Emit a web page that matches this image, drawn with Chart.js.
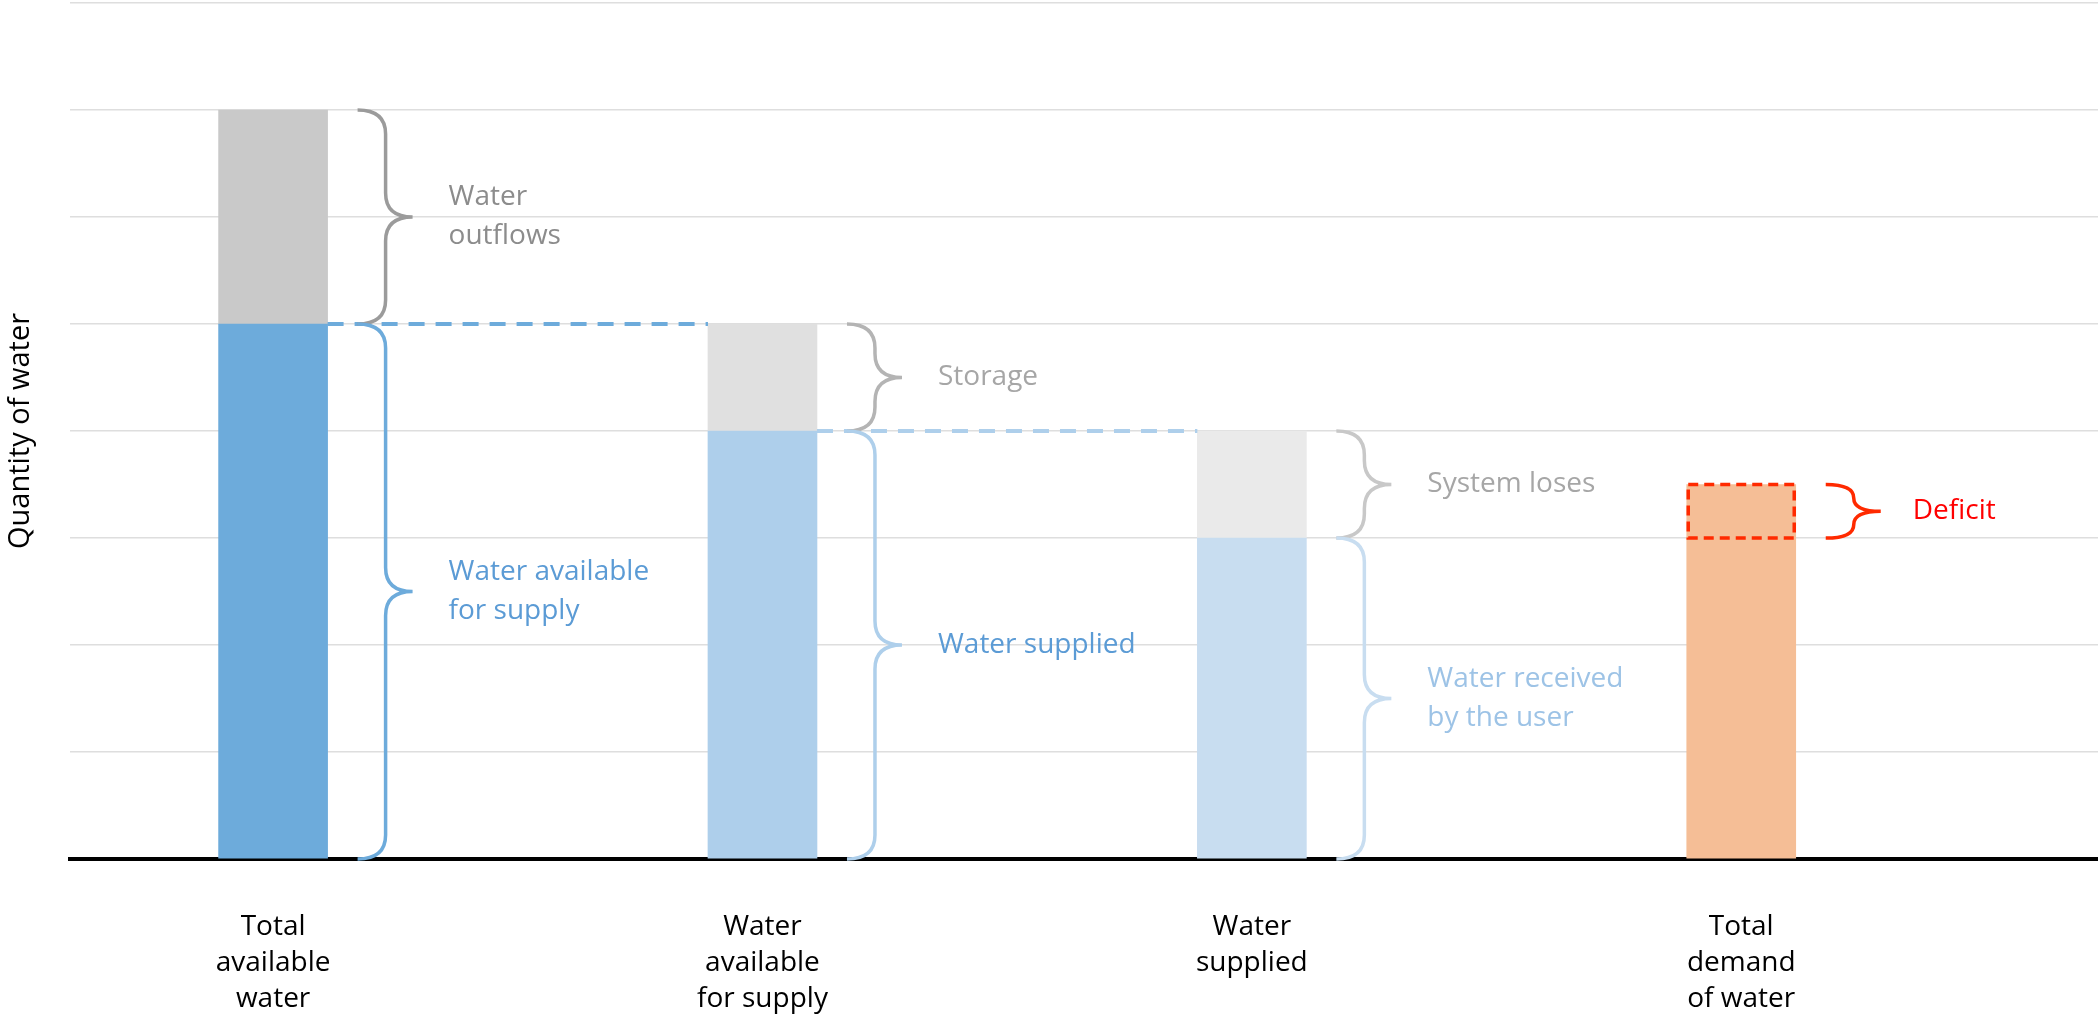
<!DOCTYPE html>
<html>
<head>
<meta charset="utf-8">
<title>Water balance</title>
<script src="https://cdn.jsdelivr.net/npm/chart.js@4.4.1/dist/chart.umd.min.js"></script>
<style>
  html, body { margin: 0; padding: 0; background: #fff; }
  #wrap { width: 2098px; height: 1018px; }
</style>
</head>
<body>
<div id="wrap"><canvas id="waterChart"></canvas></div>
<script>
// bar categories (multi-line tick labels)
const categories = [
    ["Total", "available", "water"],
    ["Water", "available", "for supply"],
    ["Water", "supplied"],
    ["Total", "demand", "of water"],
];
const usableValues = [5, 4, 3, 3.5]; // coloured lower part of each bar
const lostValues = [2, 1, 1, 0];     // grey part stacked on top

const usableColors = ["#6DABDB", "#AECFEB", "#C8DDF0", "#F5BE96"];
const lostColors = ["#C9C9C9", "#E0E0E0", "#EAEAEA", "#FFFFFF"];

// brace annotations
const lostLabels = [["Water", "outflows"], ["Storage"], ["System loses"]];
const usableLabels = [["Water available", "for supply"], ["Water supplied"], ["Water received", "by the user"]];
const deficitLabel = ["Deficit"];

const lostBraceColors = ["#9B9B9B", "#B4B4B4", "#C8C8C8"];
const lostTextColors = ["#8C8C8C", "#A6A6A6", "#A6A6A6"];
const usableBraceColors = ["#6DABDB", "#AECFEB", "#C8DDF0"];
const usableTextColors = ["#5B9BD5", "#5B9BD5", "#9DC3E6"];
const deficitColor = "#FF2A00";
const deficitTextColor = "#FF0000";

const FONT = "'Open Sans', 'Noto Sans', sans-serif";

function drawBrace(ctx, x, yTop, yBot, color) {
    const xs = x + 28;
    const xt = x + 55;
    const mid = (yTop + yBot) / 2;
    const r = Math.min(24, (yBot - yTop) / 4);
    ctx.strokeStyle = color;
    ctx.beginPath();
    ctx.moveTo(x, yTop);
    ctx.quadraticCurveTo(xs, yTop, xs, yTop + r);
    ctx.lineTo(xs, mid - r);
    ctx.quadraticCurveTo(xs, mid, xt, mid);
    ctx.quadraticCurveTo(xs, mid, xs, mid + r);
    ctx.lineTo(xs, yBot - r);
    ctx.quadraticCurveTo(xs, yBot, x, yBot);
    ctx.stroke();
    return { x: xt, y: mid };
}

function drawLabel(ctx, lines, x, y, color) {
    const lh = 39;
    ctx.fillStyle = color;
    ctx.font = "28px " + FONT;
    ctx.textAlign = "left";
    ctx.textBaseline = "middle";
    const y0 = y - ((lines.length - 1) * lh) / 2;
    lines.forEach((t, i) => ctx.fillText(t, x, y0 + i * lh));
}

const annotate = {
    id: "annotate",
    afterDatasetsDraw(chart) {
        const ctx = chart.ctx;
        const y = chart.scales.y;
        const bars = chart.getDatasetMeta(0).data;
        const left = (i) => bars[i].x - bars[i].width / 2;
        const right = (i) => bars[i].x + bars[i].width / 2;

        ctx.save();

        // dashed connectors between bars
        ctx.lineWidth = 4;
        ctx.setLineDash([16, 11]);
        for (let i = 0; i < 2; i++) {
            const py = y.getPixelForValue(usableValues[i]);
            ctx.strokeStyle = usableColors[i];
            ctx.beginPath();
            ctx.moveTo(right(i), py);
            ctx.lineTo(left(i + 1), py);
            ctx.stroke();
        }
        ctx.setLineDash([]);

        // braces for the first three bars
        ctx.lineWidth = 3.5;
        ctx.lineCap = "butt";
        for (let i = 0; i < 3; i++) {
            const bx = right(i) + 30;
            const top = y.getPixelForValue(usableValues[i] + lostValues[i]);
            const split = y.getPixelForValue(usableValues[i]);
            const zero = y.getPixelForValue(0);
            const t1 = drawBrace(ctx, bx, top, split, lostBraceColors[i]);
            drawLabel(ctx, lostLabels[i], t1.x + 36, t1.y, lostTextColors[i]);
            const t2 = drawBrace(ctx, bx, split, zero, usableBraceColors[i]);
            drawLabel(ctx, usableLabels[i], t2.x + 36, t2.y, usableTextColors[i]);
        }

        // deficit: demand above water received by the user
        const dTop = y.getPixelForValue(usableValues[3]);
        const dBot = y.getPixelForValue(usableValues[2]);
        ctx.lineWidth = 3.5;
        ctx.strokeStyle = deficitColor;
        ctx.setLineDash([10, 6]);
        ctx.strokeRect(left(3) + 1.5, dTop, bars[3].width - 3, dBot - dTop);
        ctx.setLineDash([]);
        const t3 = drawBrace(ctx, right(3) + 30, dTop, dBot, deficitColor);
        drawLabel(ctx, deficitLabel, t3.x + 32, t3.y, deficitTextColor);

        ctx.restore();
    },
};

const ctx = document.getElementById("waterChart").getContext("2d");

new Chart(ctx, {
    type: "bar",
    data: {
        datasets: [
            {
                label: "Usable",
                data: categories.map((_, i) => ({ x: i, y: usableValues[i] })),
                backgroundColor: usableColors,
                barThickness: 109,
            },
            {
                label: "Lost",
                data: categories.map((_, i) => ({ x: i, y: lostValues[i] })),
                backgroundColor: lostColors,
                barThickness: 109,
            },
        ],
    },
    options: {
        responsive: true,
        maintainAspectRatio: false,
        animation: false,
        layout: { padding: { top: 3, right: 0, bottom: 2, left: 0 } },
        plugins: {
            legend: { display: false },
            tooltip: { enabled: false },
        },
        scales: {
            x: {
                type: "linear",
                min: -0.415,
                max: 3.729,
                stacked: true,
                offset: false,
                afterBuildTicks: function (scale) {
                    scale.ticks = categories.map((_, i) => ({ value: i }));
                },
                afterFit: function (scale) {
                    scale.height = 157;
                },
                ticks: {
                    callback: function (val) {
                        return categories[val];
                    },
                    color: "#000",
                    font: { family: FONT, size: 28, lineHeight: 1.29 },
                    padding: 50,
                    maxRotation: 0,
                    autoSkip: false,
                },
                grid: { display: false, drawTicks: false },
                border: { display: true, color: "#000", width: 4 },
            },
            y: {
                min: 0,
                max: 8,
                stacked: true,
                ticks: { display: false, stepSize: 1 },
                grid: { color: "#DEDEDE", lineWidth: 1.5, drawTicks: false },
                border: { display: false },
                title: {
                    display: true,
                    text: "Quantity of water",
                    color: "#000",
                    font: { family: FONT, size: 29 },
                    padding: { top: 3, bottom: 0 },
                },
                afterFit: function (scale) {
                    scale.width = 70;
                },
            },
        },
    },
    plugins: [annotate],
});
</script>
</body>
</html>
